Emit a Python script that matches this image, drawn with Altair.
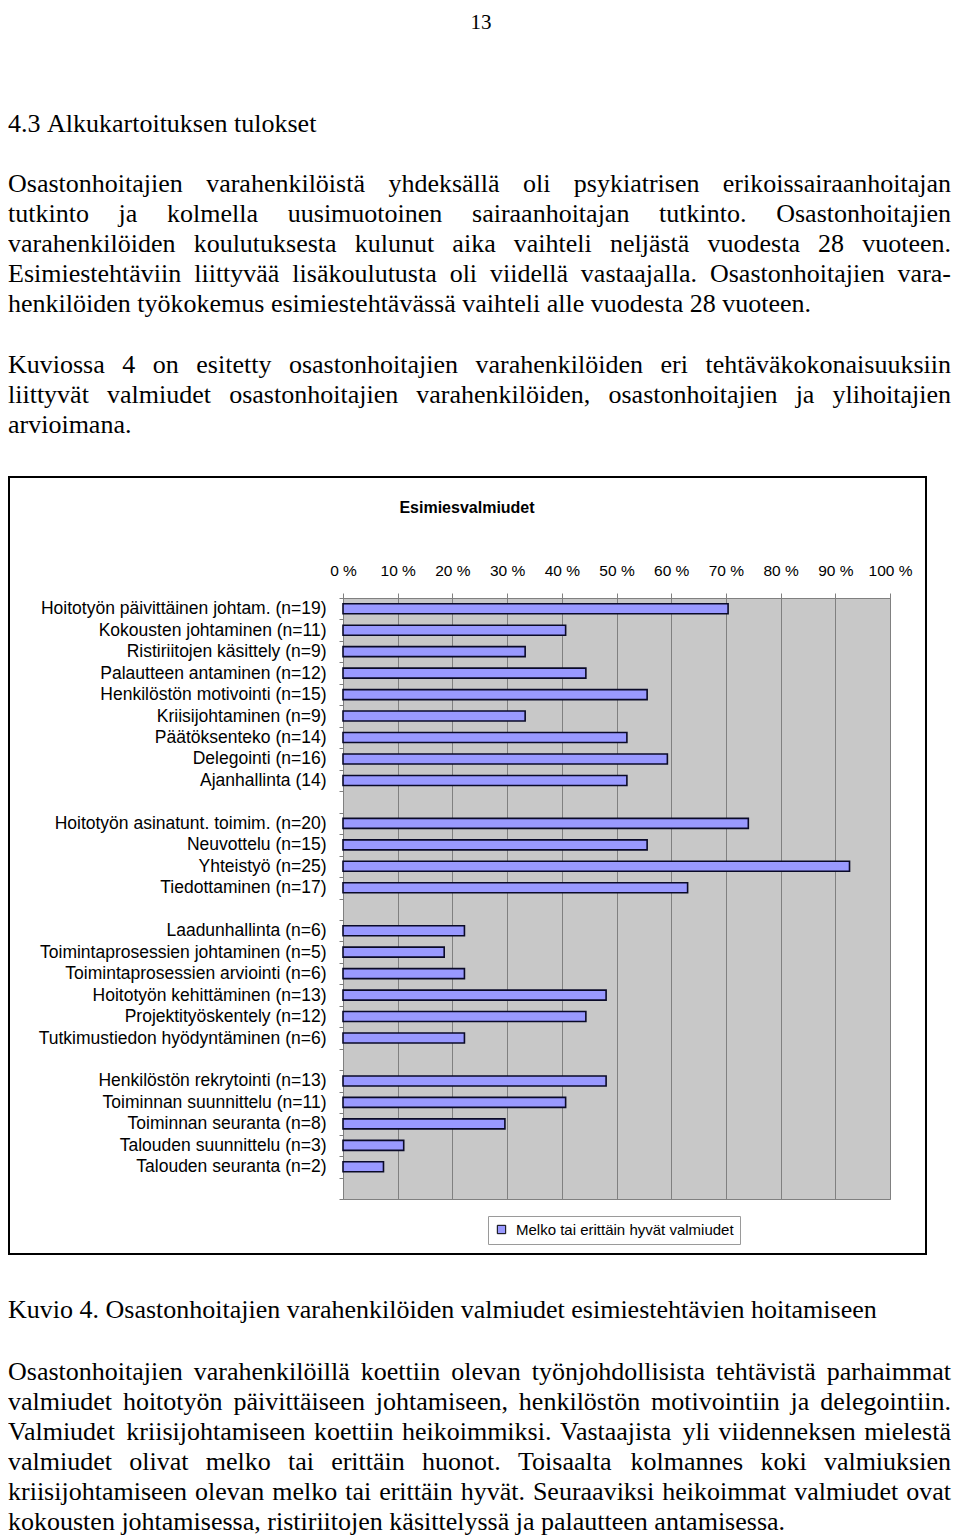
import altair as alt
import pandas as pd

# ---------------- data ----------------
SERIES = "Melko tai erittäin hyvät valmiudet"
CHART_TITLE = "Esimiesvalmiudet"

group1_tasks = [
    "Hoitotyön päivittäinen johtam. (n=19)",
    "Kokousten johtaminen (n=11)",
    "Ristiriitojen käsittely (n=9)",
    "Palautteen antaminen (n=12)",
    "Henkilöstön motivointi (n=15)",
    "Kriisijohtaminen (n=9)",
    "Päätöksenteko (n=14)",
    "Delegointi (n=16)",
    "Ajanhallinta (14)",
]
group1_values = [70.4, 40.7, 33.3, 44.4, 55.6, 33.3, 51.9, 59.3, 51.9]

group2_tasks = [
    "Hoitotyön asinatunt. toimim. (n=20)",
    "Neuvottelu (n=15)",
    "Yhteistyö (n=25)",
    "Tiedottaminen (n=17)",
]
group2_values = [74.1, 55.6, 92.6, 63.0]

group3_tasks = [
    "Laadunhallinta (n=6)",
    "Toimintaprosessien johtaminen (n=5)",
    "Toimintaprosessien arviointi (n=6)",
    "Hoitotyön kehittäminen (n=13)",
    "Projektityöskentely (n=12)",
    "Tutkimustiedon hyödyntäminen (n=6)",
]
group3_values = [22.2, 18.5, 22.2, 48.1, 44.4, 22.2]

group4_tasks = [
    "Henkilöstön rekrytointi (n=13)",
    "Toiminnan suunnittelu (n=11)",
    "Toiminnan seuranta (n=8)",
    "Talouden suunnittelu (n=3)",
    "Talouden seuranta (n=2)",
]
group4_values = [48.1, 40.7, 29.6, 11.1, 7.4]

x_tick_values = [0, 10, 20, 30, 40, 50, 60, 70, 80, 90, 100]

# page text
page_number = "13"
heading = "4.3 Alkukartoituksen tulokset"
para1 = [
    "Osastonhoitajien varahenkilöistä yhdeksällä oli psykiatrisen erikoissairaanhoitajan",
    "tutkinto ja kolmella uusimuotoinen sairaanhoitajan tutkinto. Osastonhoitajien",
    "varahenkilöiden koulutuksesta kulunut aika vaihteli neljästä vuodesta 28 vuoteen.",
    "Esimiestehtäviin liittyvää lisäkoulutusta oli viidellä vastaajalla. Osastonhoitajien vara-",
    "henkilöiden työkokemus esimiestehtävässä vaihteli alle vuodesta 28 vuoteen.",
]
para2 = [
    "Kuviossa 4 on esitetty osastonhoitajien varahenkilöiden eri tehtäväkokonaisuuksiin",
    "liittyvät valmiudet osastonhoitajien varahenkilöiden, osastonhoitajien ja ylihoitajien",
    "arvioimana.",
]
caption = "Kuvio 4. Osastonhoitajien varahenkilöiden valmiudet esimiestehtävien hoitamiseen"
para3 = [
    "Osastonhoitajien varahenkilöillä koettiin olevan työnjohdollisista tehtävistä parhaimmat",
    "valmiudet hoitotyön päivittäiseen johtamiseen, henkilöstön motivointiin ja delegointiin.",
    "Valmiudet kriisijohtamiseen koettiin heikoimmiksi. Vastaajista yli viidenneksen mielestä",
    "valmiudet olivat melko tai erittäin huonot. Toisaalta kolmannes koki valmiuksien",
    "kriisijohtamiseen olevan melko tai erittäin hyvät. Seuraaviksi heikoimmat valmiudet ovat",
    "kokousten johtamisessa, ristiriitojen käsittelyssä ja palautteen antamisessa.",
]

# ---------------- tables built from the arrays ----------------
tasks = group1_tasks + group2_tasks + group3_tasks + group4_tasks
values = group1_values + group2_values + group3_values + group4_values
bars_df = pd.DataFrame({"task": tasks, "value": values, "series": SERIES})

y_domain = (group1_tasks + [" "] + group2_tasks + ["  "] + group3_tasks
            + ["   "] + group4_tasks + ["    "])

# ---------------- layout (page pixel coordinates) ----------------
ORIGIN_X, ORIGIN_Y = 343, 598          # top-left of the plot area on the page
PLOT_W, PLOT_H = 547, 601
TEXT_L, TEXT_R = 8, 951

TIMES = {" ": 250, ".": 250, ",": 250, "-": 333, "%": 833, "(": 333, ")": 333}
for c in "0123456789":
    TIMES[c] = 500
TIMES.update(dict(zip("ABCDEFGHIJKLMNOPQRSTUVWXYZ",
                      [722, 667, 667, 722, 611, 556, 722, 722, 333, 389, 722, 611, 889,
                       722, 722, 556, 722, 667, 556, 611, 722, 722, 944, 722, 722, 611])))
TIMES.update(dict(zip("abcdefghijklmnopqrstuvwxyz",
                      [444, 500, 444, 500, 444, 333, 500, 500, 278, 278, 500, 278, 778,
                       500, 500, 500, 500, 333, 389, 278, 500, 500, 722, 500, 500, 444])))
TIMES.update({"ä": 444, "ö": 500, "å": 444, "Ä": 722, "Ö": 722})


def tw(s, fs):
    return sum(TIMES.get(c, 500) for c in s) * fs / 1000.0


def line_rows(text, baseline, fs, justify, x0=TEXT_L, x1=TEXT_R):
    words = text.split(" ")
    widths = [tw(w, fs) for w in words]
    gap = TIMES[" "] * fs / 1000.0
    if justify and len(words) > 1:
        gap = max(gap * 0.8, (x1 - x0 - sum(widths)) / (len(words) - 1))
    rows, x = [], x0
    for w, wd in zip(words, widths):
        rows.append({"word": w, "x": x - ORIGIN_X, "y": baseline - ORIGIN_Y, "fs": fs})
        x += wd + gap
    return rows


FS = 26
LINE = 30
rows = []
rows += line_rows(page_number, 29, 21, False, x0=481 - tw(page_number, 21) / 2)
rows += line_rows(heading, 132, FS, False)
for i, ln in enumerate(para1):
    rows += line_rows(ln, 192 + i * LINE, FS, i < len(para1) - 1)
for i, ln in enumerate(para2):
    rows += line_rows(ln, 373 + i * LINE, FS, i < len(para2) - 1)
rows += line_rows(caption, 1318, FS, False)
for i, ln in enumerate(para3):
    rows += line_rows(ln, 1380 + i * LINE, FS, i < len(para3) - 1)
words_df = pd.DataFrame(rows)

# ---------------- chart ----------------
frame = alt.Chart(pd.DataFrame({"k": [0]})).mark_rect(
    filled=False, stroke="#000000", strokeWidth=2
).encode(
    x=alt.value(9 - ORIGIN_X), x2=alt.value(926 - ORIGIN_X),
    y=alt.value(477 - ORIGIN_Y), y2=alt.value(1254 - ORIGIN_Y),
)

title_mark = alt.Chart(pd.DataFrame({"t": [CHART_TITLE]})).mark_text(
    font="Liberation Sans", fontSize=16, fontWeight="bold", color="black",
    align="center", baseline="middle",
).encode(text="t:N", x=alt.value(467 - ORIGIN_X), y=alt.value(508 - ORIGIN_Y))

bars = alt.Chart(bars_df).mark_bar(
    height=10, stroke="#0a0a28", strokeWidth=1.6
).encode(
    x=alt.X(
        "value:Q",
        scale=alt.Scale(domain=[0, 100], nice=False, zero=True),
        axis=alt.Axis(
            orient="top", values=x_tick_values, labelExpr="datum.value + ' %'",
            title=None, domainColor="#808080", tickColor="#808080", tickSize=5,
            labelFont="Liberation Sans", labelFontSize=15.5, labelColor="black",
            labelPadding=15, labelFlush=False, labelOverlap=False,
            grid=True, gridColor="#808080", gridWidth=1,
        ),
    ),
    y=alt.Y(
        "task:N", sort=None,
        scale=alt.Scale(domain=y_domain, paddingInner=0, paddingOuter=0),
        axis=alt.Axis(
            orient="left", title=None, tickBand="extent", domainColor="#808080",
            tickColor="#808080", tickSize=4, labelPadding=13,
            labelFont="Liberation Sans", labelFontSize=17.5, labelColor="black",
            labelLimit=600, grid=False,
        ),
    ),
    color=alt.Color(
        "series:N",
        scale=alt.Scale(domain=[SERIES], range=["#9999FF"]),
        legend=alt.Legend(
            title=None, orient="none", legendX=145, legendY=618,
            padding=6, strokeColor="#9a9a9a", fillColor="white",
            symbolType="square", symbolSize=70, symbolStrokeColor="#000000",
            symbolStrokeWidth=1, labelFont="Liberation Sans", labelFontSize=15,
            labelColor="black", labelOffset=7, labelLimit=600,
        ),
    ),
)

words = alt.Chart(words_df).mark_text(
    font="Liberation Serif", color="black", align="left", baseline="alphabetic"
).encode(
    text="word:N",
    x=alt.X("x:Q", scale=None, axis=None),
    y=alt.Y("y:Q", scale=None, axis=None),
    size=alt.Size("fs:Q", scale=None, legend=None),
)

chart = alt.layer(frame, bars, title_mark, words).resolve_scale(
    x="independent", y="independent"
).properties(
    width=PLOT_W, height=PLOT_H,
    autosize=alt.AutoSizeParams(type="none"),
    padding={"left": ORIGIN_X - 8, "top": ORIGIN_Y - 8,
             "right": 944 - (ORIGIN_X - 8) - PLOT_W,
             "bottom": 1529 - (ORIGIN_Y - 8) - PLOT_H},
    background="white",
).configure_view(fill="#C8C8C8", stroke="#808080", strokeWidth=1)

chart.save("out.html", embed_options={"renderer": "svg", "actions": False})
